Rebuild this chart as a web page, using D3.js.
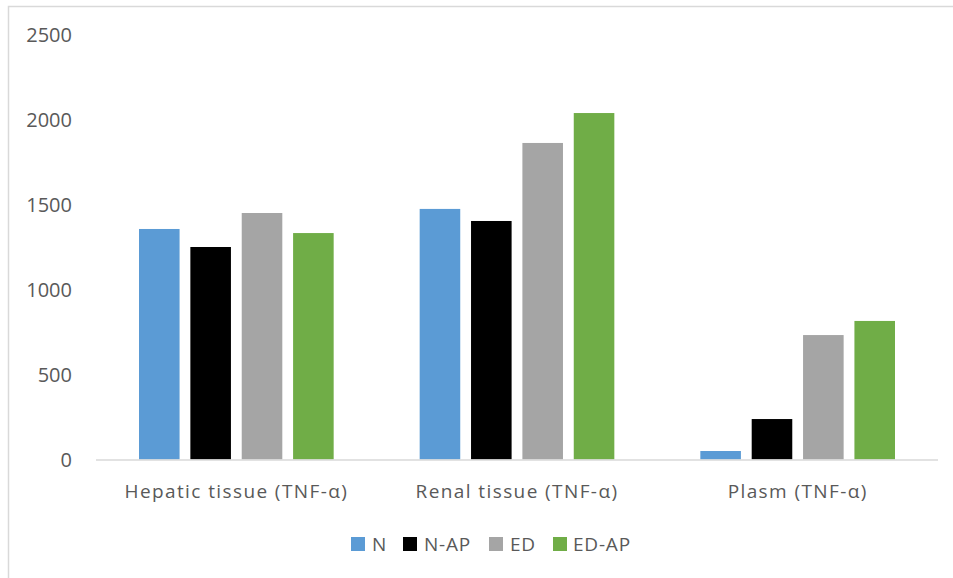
<!DOCTYPE html>
<html>
<head>
<meta charset="utf-8">
<script src="https://cdn.jsdelivr.net/npm/d3@7"></script>
<style>
  html, body { margin: 0; padding: 0; background: #fff; }
  svg { display: block; }
  text { font-family: "Open Sans", "Liberation Sans", sans-serif; fill: #595959; }
</style>
</head>
<body>
<svg id="chart" width="953" height="578"></svg>
<script>
const categories = ["Hepatic tissue (TNF-\u03b1)", "Renal tissue (TNF-\u03b1)", "Plasm (TNF-\u03b1)"];
const seriesNames = ["N", "N-AP", "ED", "ED-AP"];
const seriesColors = ["#5b9bd5", "#000000", "#a5a5a5", "#70ad47"];
const valuesN    = [1356, 1474, 50];
const valuesNAP  = [1250, 1403, 238];
const valuesED   = [1450, 1862, 732];
const valuesEDAP = [1332, 2038, 815];
const yTicks = [0, 500, 1000, 1500, 2000, 2500];

const seriesValues = [valuesN, valuesNAP, valuesED, valuesEDAP];

const svg = d3.select("#chart");
const W = 953, H = 578;
const plot = { left: 96, right: 938, top: 34.5, bottom: 459.5 };

// frame
svg.append("rect")
  .attr("x", 8.5).attr("y", 6.5)
  .attr("width", W + 10).attr("height", H + 10)
  .attr("fill", "none").attr("stroke", "#d9d9d9").attr("stroke-width", 1.5);

const x = d3.scaleBand().domain(categories).range([plot.left, plot.right]).paddingInner(0).paddingOuter(0);
const xInner = d3.scaleBand().domain(seriesNames)
  .range([43, x.bandwidth() - 43]).paddingInner(0.21).paddingOuter(0);
const y = d3.scaleLinear().domain([0, 2500]).range([plot.bottom, plot.top]);

// bars
const g = svg.append("g");
categories.forEach((cat, ci) => {
  seriesNames.forEach((s, si) => {
    const v = seriesValues[si][ci];
    g.append("rect")
      .attr("x", x(cat) + xInner(s))
      .attr("y", y(v))
      .attr("width", xInner.bandwidth())
      .attr("height", y(0) - y(v))
      .attr("fill", seriesColors[si]);
  });
});

// x axis line
svg.append("line")
  .attr("x1", plot.left).attr("x2", plot.right)
  .attr("y1", y(0) + 0.5).attr("y2", y(0) + 0.5)
  .attr("stroke", "#d9d9d9").attr("stroke-width", 1.5);

// y axis labels
const yAxis = d3.axisLeft(y).tickValues(yTicks).tickFormat(d3.format("d")).tickSize(0).tickPadding(0);
const ya = svg.append("g").attr("transform", "translate(72,0)").call(yAxis);
ya.select(".domain").remove();
ya.selectAll("text").attr("font-size", 20).style("font-family", '"Open Sans", sans-serif').attr("fill", "#595959").attr("dy", "0.35em");

// x axis labels
const xAxis = d3.axisBottom(x).tickSize(0).tickPadding(0);
const xa = svg.append("g").attr("transform", `translate(0,${plot.bottom + 38})`).call(xAxis);
xa.select(".domain").remove();
xa.selectAll("text").attr("font-size", 19).style("font-family", '"Open Sans", sans-serif')
  .style("letter-spacing", "1.4px").attr("fill", "#595959").attr("dy", "0").attr("y", 0);

// legend
const legendItems = [
  { name: "N", sx: 351, tx: 372 },
  { name: "N-AP", sx: 403, tx: 424 },
  { name: "ED", sx: 489, tx: 510 },
  { name: "ED-AP", sx: 553, tx: 573 }
];
const lg = svg.append("g");
seriesNames.forEach((s, i) => {
  const item = legendItems[i];
  lg.append("rect").attr("x", item.sx).attr("y", 537).attr("width", 14).attr("height", 14).attr("fill", seriesColors[i]);
  lg.append("text").attr("x", item.tx).attr("y", 551).attr("font-size", 19).style("letter-spacing", "0.8px").text(s);
});
</script>
</body>
</html>
